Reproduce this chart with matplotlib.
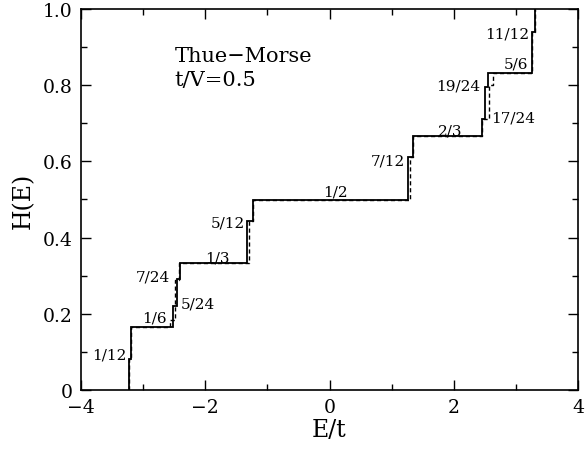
import numpy as np
import matplotlib
matplotlib.use("Agg")
import matplotlib.pyplot as plt
from matplotlib.ticker import MultipleLocator, FuncFormatter

# Integrated density of states H(E): energies where H jumps, and H after each jump
solid_E = [-3.227, -3.195, -2.524, -2.450, -2.406, -1.323, -1.231, 1.268, 1.349,
           2.455, 2.498, 2.551, 3.260, 3.303]
solid_H = [0.081, 1/6, 0.221, 0.291, 1/3, 0.444, 1/2, 0.612, 2/3,
           0.711, 0.794, 5/6, 0.940, 1.0]

dash_E = [-3.235, -3.200, -2.560, -2.487, -2.420, -1.300, -1.231, 1.295, 1.349,
          2.455, 2.572, 2.632, 3.260, 3.303]
dash_H = [0.081, 1/6, 0.185, 0.290, 1/3, 0.444, 1/2, 0.612, 2/3,
          0.711, 0.800, 5/6, 0.940, 1.0]

# plateau labels: text, E, H, horizontal alignment
labels = ["1/12", "1/6", "5/24", "7/24", "1/3", "5/12", "1/2",
          "7/12", "2/3", "17/24", "19/24", "5/6", "11/12"]
label_E = [-3.27, -2.82, -2.40, -2.56, -1.81, -1.36, 0.09,
           1.21, 1.95, 2.60, 2.42, 3.00, 3.22]
label_H = [0.092, 0.189, 0.226, 0.297, 0.348, 0.440, 0.522,
           0.603, 0.682, 0.716, 0.799, 0.856, 0.935]
label_ha = ["right", "center", "left", "right", "center", "right", "center",
            "right", "center", "left", "right", "center", "right"]

title_lines = ["Thue\u2212Morse", "t/V=0.5"]

xticks = [-4, -2, 0, 2, 4]
yticks = [0, 0.2, 0.4, 0.6, 0.8, 1.0]

fam = "DejaVu Serif"
plt.rcParams["font.family"] = fam
plt.rcParams["mathtext.fontset"] = "dejavuserif"

fig = plt.figure(figsize=(5.87, 4.52), dpi=100)
ax = fig.add_axes([81/587, 1 - 391/452, (578-81)/587, (391-10)/452])

ax.step(np.r_[solid_E[0], solid_E], np.r_[0, solid_H], where="post",
        color="black", lw=1.3, solid_joinstyle="miter")
ax.step(np.r_[dash_E[0], dash_E], np.r_[0, dash_H], where="post",
        color="black", lw=1.0, linestyle=(0, (3, 2)))

for t, e, h, ha in zip(labels, label_E, label_H, label_ha):
    ax.text(e, h, t, ha=ha, va="center", fontsize=11, family=fam)

ax.text(-2.49, 0.878, title_lines[0], ha="left", va="center", fontsize=15, family=fam)
ax.text(-2.49, 0.815, title_lines[1], ha="left", va="center", fontsize=15, family=fam)

ax.set_xlim(-4, 4)
ax.set_ylim(0, 1)
ax.set_xticks(xticks)
ax.set_yticks(yticks)
ax.xaxis.set_minor_locator(MultipleLocator(1))
ax.yaxis.set_minor_locator(MultipleLocator(0.1))
ax.xaxis.set_major_formatter(FuncFormatter(lambda v, p: "0" if v == 0 else f"{v:.0f}".replace("-", "\u2212")))
ax.yaxis.set_major_formatter(FuncFormatter(lambda v, p: "0" if v == 0 else f"{v:.1f}"))
ax.tick_params(which="both", direction="in", top=True, right=True, labelsize=13.5, width=1.0)
ax.tick_params(which="major", length=7, pad=6)
ax.tick_params(which="minor", length=4)
for s in ax.spines.values():
    s.set_linewidth(1.2)

ax.set_xlabel("E/t", fontsize=17, labelpad=1)
ax.set_ylabel("H(E)", fontsize=17, labelpad=6)

fig.savefig("out.png", dpi=100)
